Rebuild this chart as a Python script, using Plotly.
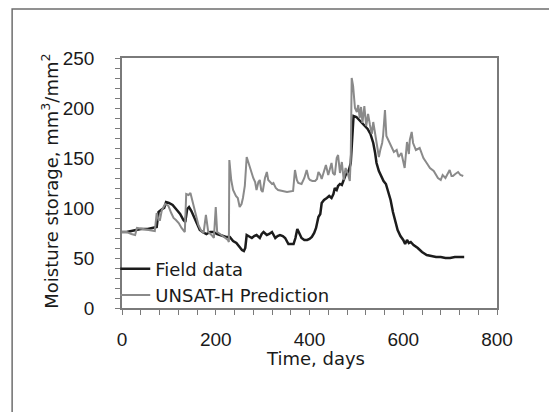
import plotly.graph_objects as go

field_days = [0, 10, 20, 28, 40, 55, 70, 74, 78, 82, 86, 90, 94, 100, 108, 117, 124, 131, 135,
              139, 143, 148, 154, 160, 166, 172, 180, 188, 195, 203, 209, 216, 222, 230, 237, 244,
              250, 256, 260, 263, 266, 271, 277, 282, 287, 294, 298, 302, 309, 314, 320, 327, 332,
              337, 343, 348, 355, 360, 366, 370, 374, 379, 383, 389, 395, 400, 405, 410, 414, 419,
              423, 426, 431, 437, 442, 447, 451, 454, 458, 461, 465, 469, 473, 477, 481, 484, 488,
              491, 494, 500, 506, 512, 518, 524, 530, 536, 540, 543, 548, 553, 558, 563, 568, 573,
              578, 582, 588, 594, 600, 604, 608, 612, 616, 622, 631, 640, 650, 660, 670, 680, 690,
              700, 710, 720, 730]
field_vals = [76, 76, 77, 78, 79, 79, 80, 81, 96, 98, 99, 100, 106, 105, 103, 98, 94, 88, 86,
              99, 101, 97, 90, 83, 78, 76, 74, 76, 76, 74, 73, 72, 71, 71, 67, 65,
              61, 58, 57, 60, 73, 72, 70, 72, 73, 70, 74, 76, 73, 74, 76, 70, 72,
              73, 72, 70, 64, 64, 64, 70, 79, 74, 70, 68, 68, 69, 71, 75, 80, 91,
              94, 105, 108, 110, 112, 110, 114, 120, 118, 122, 124, 123, 129, 133, 135, 138, 145,
              172, 192, 191, 188, 184, 182, 179, 174, 165, 155, 145, 137, 131, 127, 124, 116, 108,
              96, 88, 78, 72, 68, 64, 68, 65, 66, 63, 60, 56, 53, 52, 51, 51, 50,
              50, 51, 51, 51]

model_days = [0, 10, 20, 28, 32, 45, 60, 70, 74, 78, 81, 85, 92, 99, 105, 110, 115, 121, 127,
              131, 134, 137, 142, 146, 151, 156, 163, 169, 174, 179, 184, 191, 196, 200, 203, 212,
              218, 222, 226, 228, 229, 233, 237, 243, 247, 251, 255, 258, 262, 266, 269, 273, 280,
              284, 287, 291, 294, 297, 300, 305, 309, 312, 316, 320, 323, 328, 333, 340, 352, 365,
              369, 373, 376, 383, 389, 394, 398, 401, 406, 412, 416, 419, 423, 426, 431, 435, 440,
              444, 447, 450, 454, 458, 461, 465, 469, 473, 477, 482, 486, 488, 490, 493, 497, 501,
              504, 507, 510, 513, 517, 521, 525, 529, 533, 536, 540, 544, 548, 551, 555, 557, 561,
              564, 570, 575, 580, 586, 590, 596, 603, 608, 612, 614, 618, 621, 627, 635, 643, 650,
              657, 665, 674, 680, 684, 690, 695, 699, 703, 706, 711, 717, 722, 728]
model_vals = [76, 76, 74, 73, 80, 79, 78, 77, 95, 88, 88, 98, 104, 102, 95, 90, 88, 85, 80,
              78, 76, 114, 113, 115, 106, 98, 83, 77, 75, 93, 76, 73, 70, 101, 76, 73,
              71, 70, 68, 66, 148, 128, 118, 112, 110, 101, 104, 110, 122, 151, 146, 140, 130,
              126, 118, 126, 128, 118, 116, 130, 136, 128, 126, 124, 125, 120, 118, 117, 116, 117,
              138, 128, 125, 124, 130, 138, 130, 128, 127, 127, 129, 136, 133, 129, 137, 143, 133,
              140, 145, 135, 133, 150, 153, 135, 146, 128, 140, 134, 127, 150, 230, 222, 200, 196,
              203, 190, 201, 185, 202, 182, 194, 183, 174, 186, 173, 160, 151, 158, 165, 172, 198,
              172, 166, 160, 156, 158, 151, 155, 140, 166, 154, 168, 176, 165, 158, 160, 150, 145,
              140, 137, 130, 128, 133, 130, 134, 138, 132, 132, 134, 136, 133, 132]

x_title = "Time, days"
y_title = "Moisture storage, mm<sup>3</sup>/mm<sup>2</sup>"

fig = go.Figure()
fig.add_trace(go.Scatter(x=field_days, y=field_vals, mode="lines", name="Field data",
                         line=dict(color="#1c1c1c", width=2.5)))
fig.add_trace(go.Scatter(x=model_days, y=model_vals, mode="lines", name="UNSAT-H Prediction",
                         line=dict(color="#8a8a8a", width=2)))

axis_col = "#7a7a7a"
text_font = "DejaVu Sans, Arial, sans-serif"
tick_font = dict(family="Liberation Sans, Arial, sans-serif", size=19, color="#1a1a1a")

fig.update_layout(
    width=549, height=404,
    margin=dict(l=114, r=60, t=50, b=104),
    paper_bgcolor="white", plot_bgcolor="white",
    font=dict(family=text_font, size=18, color="#1a1a1a"),
    showlegend=True,
    legend=dict(x=-0.018, y=-0.022, xanchor="left", yanchor="bottom", bgcolor="rgba(0,0,0,0)",
                font=dict(size=18, color="#1a1a1a"), tracegroupgap=0, itemwidth=30),
    xaxis=dict(range=[0, 800], dtick=200, tick0=0, showgrid=False, zeroline=False,
               showline=True, linecolor=axis_col, linewidth=1.5, mirror=True,
               ticks="outside", ticklen=5, tickwidth=1, tickcolor=axis_col,
               ticklabelstandoff=8, tickfont=tick_font,
               minor=dict(dtick=40, ticks="outside", ticklen=5, tickcolor=axis_col, showgrid=False)),
    yaxis=dict(range=[0, 250], dtick=50, tick0=0, showgrid=False, zeroline=False,
               showline=True, linecolor=axis_col, linewidth=1.5, mirror=True,
               ticks="outside", ticklen=5, tickwidth=1, tickcolor=axis_col,
               ticklabelstandoff=17, tickfont=tick_font,
               minor=dict(dtick=10, ticks="outside", ticklen=5, tickcolor=axis_col, showgrid=False)),
    annotations=[
        dict(text=x_title, xref="paper", yref="paper", x=0.517, y=-0.2,
             xanchor="center", yanchor="middle", showarrow=False,
             font=dict(size=18, family=text_font, color="#1a1a1a")),
        dict(text=y_title, xref="paper", yref="paper", x=-0.192, y=0.505,
             xanchor="center", yanchor="middle", textangle=-90, showarrow=False,
             font=dict(size=18, family=text_font, color="#1a1a1a")),
    ],
    shapes=[dict(type="rect", xref="paper", yref="paper",
                 x0=-0.293, x1=1.144, y0=-0.44, y1=1.196,
                 line=dict(color="#6e6e6e", width=1.5), fillcolor="rgba(0,0,0,0)", layer="below")],
)

fig.write_html("out.html")
